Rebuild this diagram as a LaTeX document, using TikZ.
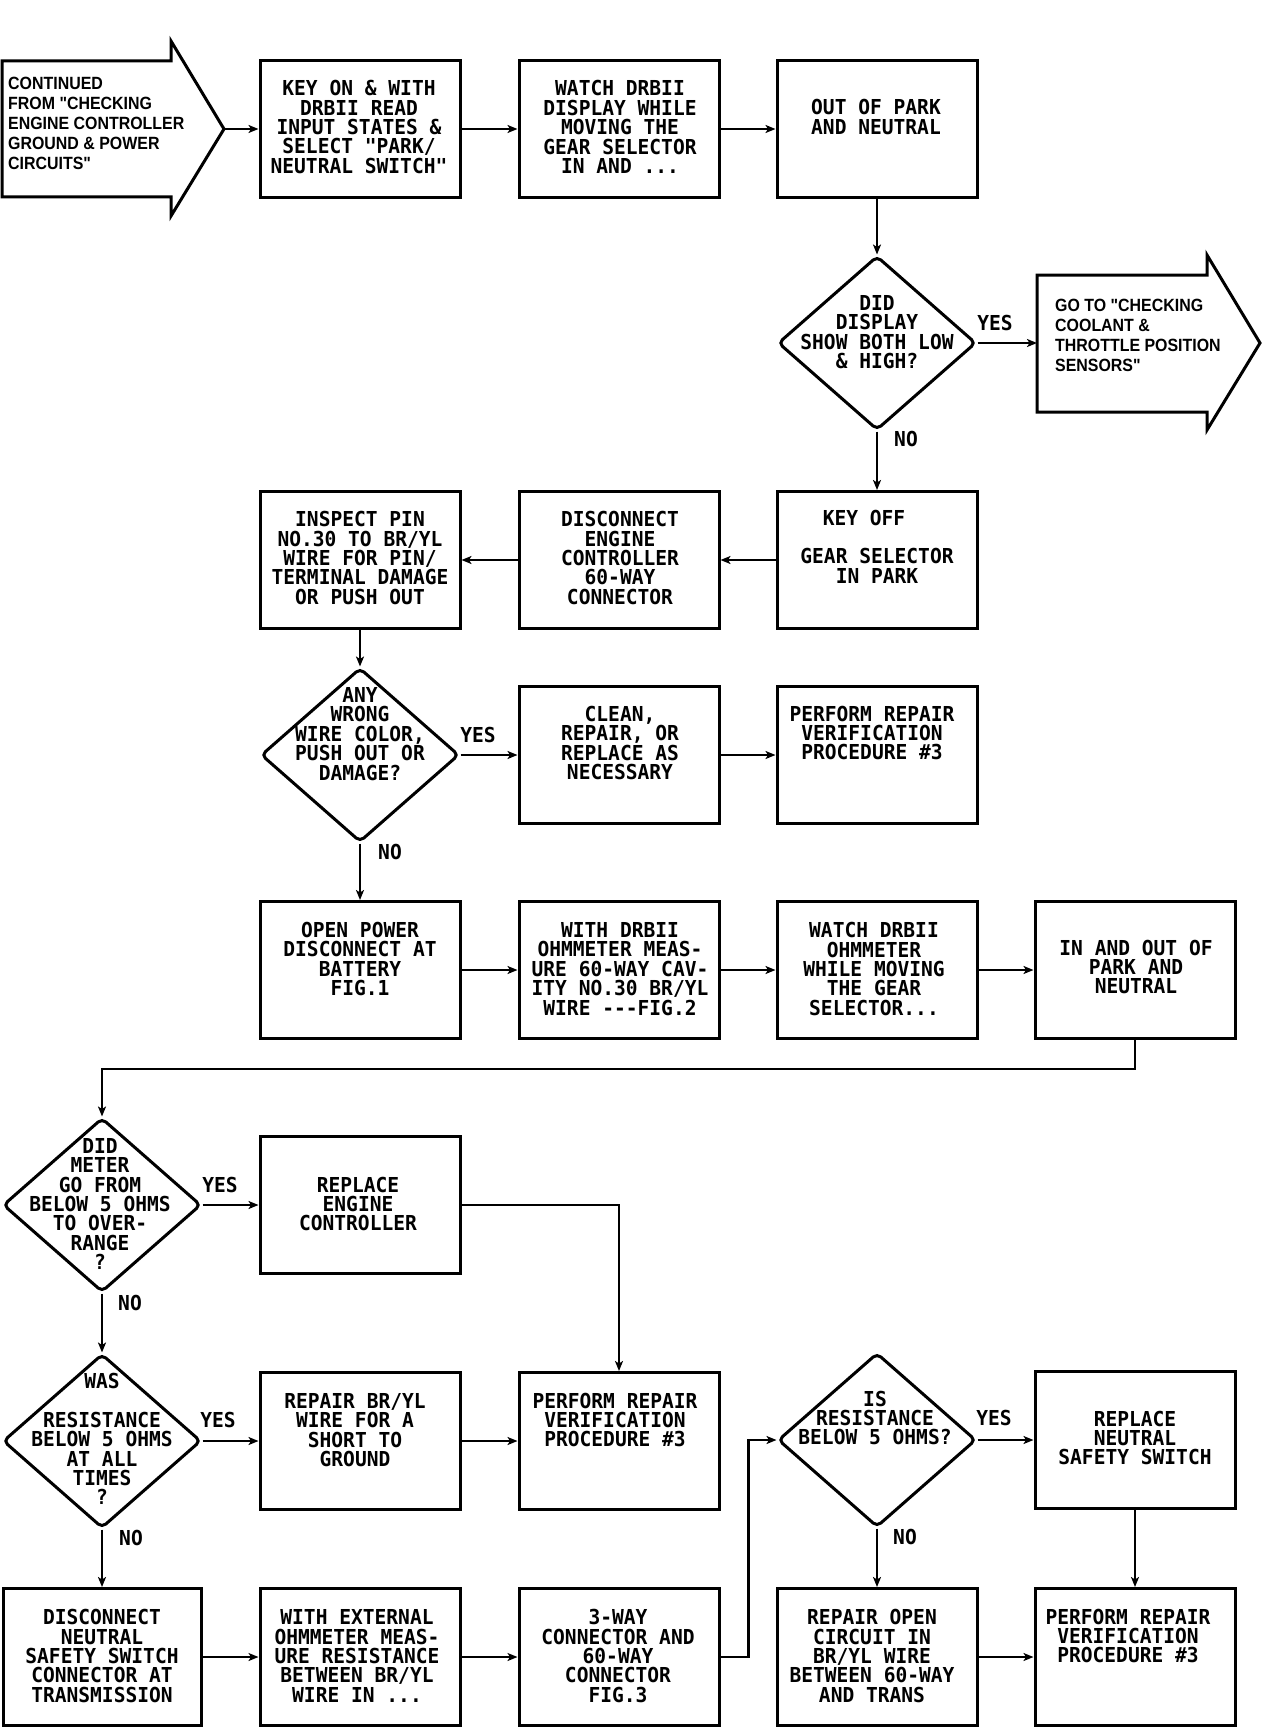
\documentclass[tikz,border=0pt]{standalone}
\usepackage{fontspec}
\newfontfamily\plotfont[FakeStretch=0.95]{DejaVu Sans Mono}
\newfontfamily\arialfont[FakeStretch=0.9]{Liberation Sans}
\usetikzlibrary{shapes.geometric,arrows.meta}
\begin{document}
\begin{tikzpicture}[x=1pt,y=-1pt,
  box/.style={draw, line width=3pt, minimum width=200pt, minimum height=137pt, inner sep=0pt},
  dia/.style={draw, diamond, line width=3pt, minimum width=198pt, minimum height=174pt, inner sep=0pt, rounded corners=5pt},
  txt/.style={font=\plotfont\bfseries\fontsize{20.6pt}{19.4pt}\selectfont, align=center, inner sep=0pt},
  lbl/.style={font=\plotfont\bfseries\fontsize{20.6pt}{19.4pt}\selectfont, inner sep=0pt},
  atxt/.style={font=\arialfont\bfseries\fontsize{17.7pt}{20pt}\selectfont, align=left, inner sep=0pt, anchor=west},
  conn/.style={line width=2.4pt, -{Stealth[length=10pt,width=8pt,inset=2.5pt]}},
  bigarrow/.style={draw, line width=3pt}
]
\fill[white] (0,0) rectangle (1280,1728);
\useasboundingbox (0,0) rectangle (1280,1728);

% ---- start arrow ----
\draw[bigarrow] (2,61) -- (171,61) -- (171,41) -- (224,129) -- (171,216) -- (171,197) -- (2,197) -- cycle;
\coordinate (starttip) at (224,129);
\node[atxt] (tstart) at (8,123) {CONTINUED\\FROM "CHECKING\\ENGINE CONTROLLER\\GROUND \& POWER\\CIRCUITS"};

% ---- row 1 ----
\node[box] (r1b) at (360,129) {};
\node[txt] (t1b) at (359,127) {KEY ON \& WITH\\DRBII READ\\INPUT STATES \&\\SELECT "PARK/\\NEUTRAL SWITCH"};
\node[box] (r1c) at (619,129) {};
\node[txt] (t1c) at (620,127) {WATCH DRBII\\DISPLAY WHILE\\MOVING THE\\GEAR SELECTOR\\IN AND ...};
\node[box] (r1d) at (877,129) {};
\node[txt] (t1d) at (876,117) {OUT OF PARK\\AND NEUTRAL};

% ---- diamond 1 ----
\node[dia] (q1) at (877,343) {};
\node[txt] (tq1) at (877,332) {DID\\DISPLAY\\SHOW BOTH LOW\\\& HIGH?};
\node[lbl] (yes1) at (995,323) {YES};
\node[lbl] (no1) at (906,439) {NO};

% ---- go-to arrow ----
\draw[bigarrow] (1037,275) -- (1207,275) -- (1207,255) -- (1260,343) -- (1207,430) -- (1207,412) -- (1037,412) -- cycle;
\coordinate (goleft) at (1037,343);
\node[atxt] (tgoto) at (1055,335) {GO TO "CHECKING\\COOLANT \&\\THROTTLE POSITION\\SENSORS"};

% ---- row 2 ----
\node[box] (r2b) at (360,560) {};
\node[txt] (t2b) at (360,558) {INSPECT PIN\\NO.30 TO BR/YL\\WIRE FOR PIN/\\TERMINAL DAMAGE\\OR PUSH OUT};
\node[box] (r2c) at (619,560) {};
\node[txt] (t2c) at (620,558) {DISCONNECT\\ENGINE\\CONTROLLER\\60-WAY\\CONNECTOR};
\node[box] (r2d) at (877,560) {};
\node[txt] (t2d1) at (864,518) {KEY OFF};
\node[txt] (t2d2) at (877,566) {GEAR SELECTOR\\IN PARK};

% ---- diamond 2 / row 3 ----
\node[dia] (q2) at (360,755) {};
\node[txt] (tq2) at (360,734) {ANY\\WRONG\\WIRE COLOR,\\PUSH OUT OR\\DAMAGE?};
\node[lbl] (yes2) at (478,735) {YES};
\node[lbl] (no2) at (390,852) {NO};
\node[box] (r3c) at (619,755) {};
\node[txt] (t3c) at (620,743) {CLEAN,\\REPAIR, OR\\REPLACE AS\\NECESSARY};
\node[box] (r3d) at (877,755) {};
\node[txt] (t3d) at (872,733) {PERFORM REPAIR\\VERIFICATION\\PROCEDURE \#3};

% ---- row 4 ----
\node[box] (r4b) at (360,970) {};
\node[txt] (t4b) at (360,959) {OPEN POWER\\DISCONNECT AT\\BATTERY\\FIG.1};
\node[box] (r4c) at (619,970) {};
\node[txt] (t4c) at (620,969) {WITH DRBII\\OHMMETER MEAS-\\URE 60-WAY CAV-\\ITY NO.30 BR/YL\\WIRE -\kern0pt-\kern0pt-FIG.2};
\node[box] (r4d) at (877,970) {};
\node[txt] (t4d) at (874,969) {WATCH DRBII\\OHMMETER\\WHILE MOVING\\THE GEAR\\SELECTOR...};
\node[box] (r4e) at (1135,970) {};
\node[txt] (t4e) at (1136,967) {IN AND OUT OF\\PARK AND\\NEUTRAL};

% ---- diamond 3 / row 5 ----
\node[dia] (q3) at (102,1205) {};
\node[txt] (tq3) at (100,1204) {DID\\METER\\GO FROM\\BELOW 5 OHMS\\TO OVER-\\RANGE\\?};
\node[lbl] (yes3) at (220,1185) {YES};
\node[lbl] (no3) at (130,1303) {NO};
\node[box] (r5b) at (360,1205) {};
\node[txt] (t5b) at (358,1204) {REPLACE\\ENGINE\\CONTROLLER};

% ---- diamond 4 / row 6 ----
\node[dia] (q4) at (102,1441) {};
\node[txt] (tq4) at (102,1439) {WAS\\[19.4pt]RESISTANCE\\BELOW 5 OHMS\\AT ALL\\TIMES\\?};
\node[lbl] (yes4) at (218,1420) {YES};
\node[lbl] (no4) at (131,1538) {NO};
\node[box] (r6b) at (360,1441) {};
\node[txt] (t6b) at (355,1430) {REPAIR BR/YL\\WIRE FOR A\\SHORT TO\\GROUND};
\node[box] (r6c) at (619,1441) {};
\node[txt] (t6c) at (615,1420) {PERFORM REPAIR\\VERIFICATION\\PROCEDURE \#3};

% ---- diamond 5 ----
\node[dia] (q5) at (877,1440) {};
\node[txt] (tq5) at (875,1418) {IS\\RESISTANCE\\BELOW 5 OHMS?};
\node[lbl] (yes5) at (994,1418) {YES};
\node[lbl] (no5) at (905,1537) {NO};
\node[box] (r6e) at (1135,1440) {};
\node[txt] (t6e) at (1135,1438) {REPLACE\\NEUTRAL\\SAFETY SWITCH};

% ---- row 7 ----
\node[box, minimum width=198pt] (r7a) at (102,1657) {};
\node[txt] (t7a) at (102,1656) {DISCONNECT\\NEUTRAL\\SAFETY SWITCH\\CONNECTOR AT\\TRANSMISSION};
\node[box] (r7b) at (360,1657) {};
\node[txt] (t7b) at (357,1656) {WITH EXTERNAL\\OHMMETER MEAS-\\URE RESISTANCE\\BETWEEN BR/YL\\WIRE IN ...};
\node[box] (r7c) at (619,1657) {};
\node[txt] (t7c) at (618,1656) {3-WAY\\CONNECTOR AND\\60-WAY\\CONNECTOR\\FIG.3};
\node[box] (r7d) at (877,1657) {};
\node[txt] (t7d) at (872,1656) {REPAIR OPEN\\CIRCUIT IN\\BR/YL WIRE\\BETWEEN 60-WAY\\AND TRANS};
\node[box] (r7e) at (1135,1657) {};
\node[txt] (t7e) at (1128,1636) {PERFORM REPAIR\\VERIFICATION\\PROCEDURE \#3};

% ---- connectors ----
\draw[conn] (starttip) -- (r1b.west);
\draw[conn] (r1b.east) -- (r1c.west);
\draw[conn] (r1c.east) -- (r1d.west);
\draw[conn] (r1d.south) -- (q1.north);
\draw[conn] (q1.east) -- (goleft);
\draw[conn] (q1.south) -- (r2d.north);
\draw[conn] (r2d.west) -- (r2c.east);
\draw[conn] (r2c.west) -- (r2b.east);
\draw[conn] (r2b.south) -- (q2.north);
\draw[conn] (q2.east) -- (r3c.west);
\draw[conn] (r3c.east) -- (r3d.west);
\draw[conn] (q2.south) -- (r4b.north);
\draw[conn] (r4b.east) -- (r4c.west);
\draw[conn] (r4c.east) -- (r4d.west);
\draw[conn] (r4d.east) -- (r4e.west);
\draw[conn] (r4e.south) -- ++(0,29) -| (q3.north);
\draw[conn] (q3.east) -- (r5b.west);
\draw[conn] (r5b.east) -| (r6c.north);
\draw[conn] (q3.south) -- (q4.north);
\draw[conn] (q4.east) -- (r6b.west);
\draw[conn] (r6b.east) -- (r6c.west);
\draw[conn] (q4.south) -- (r7a.north);
\draw[conn] (r7a.east) -- (r7b.west);
\draw[conn] (r7b.east) -- (r7c.west);
\draw[conn] (r7c.east) -- ++(28,0) |- (q5.west);
\draw[conn] (q5.east) -- (r6e.west);
\draw[conn] (q5.south) -- (r7d.north);
\draw[conn] (r6e.south) -- (r7e.north);
\draw[conn] (r7d.east) -- (r7e.west);
\end{tikzpicture}
\end{document}
